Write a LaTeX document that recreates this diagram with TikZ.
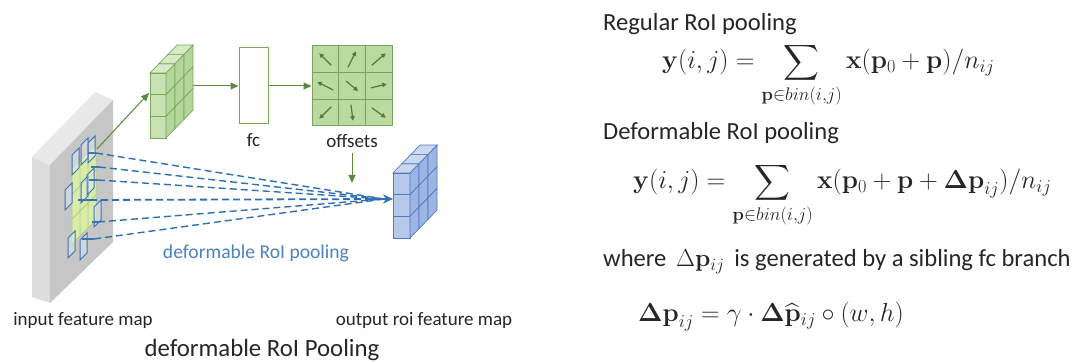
\RequirePackage{fix-cm}
\documentclass[tikz,border=0pt]{standalone}
\usepackage{amsmath}
\usepackage[no-math]{fontspec}
\setmainfont{Carlito}
\usetikzlibrary{arrows.meta,calc}

\definecolor{txt}{HTML}{262626}
\definecolor{slabside}{HTML}{DCDCDC}
\definecolor{slabtop}{HTML}{E8E8E8}
\definecolor{slabfront}{HTML}{C6C6C6}
\definecolor{roifill}{HTML}{D9EDA8}
\definecolor{roiline}{HTML}{A9C97A}
\definecolor{binblue}{HTML}{3F73B8}
\definecolor{pooldash}{HTML}{2F6FB3}
\definecolor{poollbl}{HTML}{4A83C2}
\definecolor{gdark}{HTML}{5A8A3C}
\definecolor{gline}{HTML}{7AA85A}
\definecolor{gfront}{HTML}{C8E2B3}
\definecolor{gside}{HTML}{B3D69A}
\definecolor{gtop}{HTML}{D8EBC8}
\definecolor{goff}{HTML}{B9DBA0}
\definecolor{bline}{HTML}{4F79C4}
\definecolor{bfront}{HTML}{B5C8EA}
\definecolor{bside}{HTML}{9DB5E2}
\definecolor{btop}{HTML}{CBD8F0}

% 3-row block: front column, three depth slices on the side and top
\newcommand{\cubeblock}[7]{%
  \foreach \r in {0,1,2}{%
    \filldraw[fill=#5] (#1,{#2+\r*#4/3}) rectangle ({#1+#3},{#2+(\r+1)*#4/3});
  }%
  \foreach \c in {0,1,2}{%
    \foreach \r in {0,1,2}{%
      \filldraw[fill=#6] ({#1+#3+9*\c},{#2+\r*#4/3-9.3*\c}) -- ++(9,-9.3) -- ++(0,{#4/3}) -- ++(-9,9.3) -- cycle;
    }%
    \filldraw[fill=#7] ({#1+9*\c},{#2-9.3*\c}) -- ++(#3,0) -- ++(9,-9.3) -- ++(-#3,0) -- cycle;
  }%
}

\tikzset{
  lbl/.style={font=\fontsize{19}{22}\selectfont, text=txt, inner sep=0pt},
  head/.style={font=\fontsize{24.6}{29}\selectfont, text=txt, inner sep=0pt, anchor=base west},
  formula/.style={font=\fontsize{26}{30}\selectfont, text=txt, inner sep=0pt, anchor=base west},
  garrow/.style={draw=gdark, line width=1pt, -{Triangle[length=8pt,width=7pt]}},
  offarrow/.style={draw=gdark!90!black, line width=1.2pt, -{Triangle[length=4.5pt,width=4.5pt]}},
  pooldashed/.style={draw=pooldash, line width=1.4pt, dash pattern=on 7pt off 4pt},
  binrect/.style={draw=binblue, line width=1pt, fill=binblue!15, fill opacity=0.45},
  bintick/.style={draw=binblue, line width=1.3pt},
}

\begin{document}
\begin{tikzpicture}[x=1pt,y=-1pt]
\useasboundingbox (0,0) rectangle (1087,363);
\fill[white] (0,0) rectangle (1087,363);

% ---------- input feature map slab ----------
\fill[slabside] (32,157) -- (50,165) -- (50,303) -- (32,297) -- cycle;
\fill[slabtop] (32,157) -- (95,92) -- (113,100) -- (50,165) -- cycle;
\fill[slabfront] (50,165) -- (113,100) -- (113,242) -- (50,303) -- cycle;

% RoI grid on the slab
\foreach \c in {0,1,2}{
  \foreach \r in {0,1,2}{
    \filldraw[fill=roifill, draw=roiline, line width=0.5pt]
      ({72+8*\c},{244-8*\c-25*\r}) -- ++(8,-8) -- ++(0,-25) -- ++(-8,8) -- cycle;
  }
}

% deformed bins
\foreach \x/\y in {68/258, 80/260, 94/227, 65/210, 81/203, 87/195, 72/175, 81/165, 88/163}{
  \path[binrect] (\x,\y) -- ++(7,-7) -- ++(0,-20) -- ++(-7,7) -- cycle;
}
% short ticks where the sampling lines leave the bins
\foreach \x/\y/\l in {88/153/8, 91/167/8, 89/180/9, 78/200/12, 92/222/6, 82/239/12}{
  \draw[bintick] (\x,\y) -- ++(\l,0);
}

% ---------- named anchor points ----------
\coordinate (roiTR) at (97,149);
\coordinate (gcubeL) at (149,93);
\coordinate (gcubeR) at (193,86);
\coordinate (d1) at (96,153);
\coordinate (d2) at (99,167);
\coordinate (d3) at (98,180);
\coordinate (d4) at (90,200);
\coordinate (d5) at (98,222);
\coordinate (d6) at (94,239);
\coordinate (poolend) at (384,199);
\coordinate (bcubeL) at (393,199);

% ---------- green feature block ----------
\begin{scope}[color=gline, line width=0.7pt]
  \cubeblock{150}{73}{16}{65}{gfront}{gside}{gtop}
\end{scope}

% ---------- fc and offsets ----------
\node[draw=gline, line width=1pt, fill=white, minimum width=29pt, minimum height=76pt, inner sep=0pt] (fc) at (253.5,86) {};
\node[lbl] (fclbl) at (253.5,140) {fc};

\node[draw=gdark!80, line width=1pt, fill=goff, minimum width=80pt, minimum height=80pt, inner sep=0pt] (offs) at (352,86) {};
\foreach \t in {1,2}{
  \draw[gdark!80, line width=1pt] ($(offs.north west)!\t/3!(offs.north east)$) -- ($(offs.south west)!\t/3!(offs.south east)$);
  \draw[gdark!80, line width=1pt] ($(offs.north west)!\t/3!(offs.south west)$) -- ($(offs.north east)!\t/3!(offs.south east)$);
}
\foreach \cx/\cy/\dx/\dy in {
  325.3/59.3/-6/-6, 352/59.3/4/-8, 378.7/59.3/7/-6,
  325.3/86/-8/-4, 352/86/6/5, 378.7/86/8/-2,
  325.3/112.7/-6/6, 352/112.7/1/8, 378.7/112.7/7/5}{
  \draw[offarrow] ({\cx-(\dx)},{\cy-(\dy)}) -- ({\cx+(\dx)},{\cy+(\dy)});
}
\node[lbl] (offlbl) at (352,141) {offsets};
\coordinate (offdown) at (352,183);

% ---------- blue output block ----------
\begin{scope}[color=bline, line width=0.7pt]
  \cubeblock{393}{173}{17}{65}{bfront}{bside}{btop}
\end{scope}

% ---------- connectors ----------
\draw[garrow] (roiTR) -- (gcubeL);
\draw[garrow] (gcubeR) -- (fc.west);
\draw[garrow] (fc.east) -- (offs.west);
\draw[garrow] ([yshift=-5pt]offlbl.south) -- (offdown);

\foreach \s in {d1,d2,d3,d5,d6}{
  \draw[pooldashed] (\s) -- (poolend);
}
\draw[pooldashed, line width=1.8pt] (d4) -- (poolend);
\draw[draw=pooldash, line width=2.2pt, -{Stealth[length=10pt,width=9pt]}] ([xshift=-18pt]poolend) -- (bcubeL);

% ---------- labels ----------
\node[lbl, text=poollbl, font=\fontsize{19.6}{23}\selectfont] (poollabel) at (256,253) {deformable RoI pooling};
\node[lbl] (inlbl) at (83,320) {input feature map};
\node[lbl] (outlbl) at (424,320) {output roi feature map};
\node[font=\fontsize{24.8}{28}\selectfont, text=txt, inner sep=0pt] (title) at (262,350) {deformable RoI Pooling};

% ---------- formulas ----------
\node[head] (reg) at (603,31) {Regular RoI pooling};
\node[formula] (f1) at (662,69)
  {$\displaystyle \mathbf{y}(i,j)=\sum_{\mathbf{p}\in bin(i,j)}\mathbf{x}(\mathbf{p}_0+\mathbf{p})/n_{ij}$};
\node[head] (dfm) at (603,140) {Deformable RoI pooling};
\node[formula] (f2) at (633,189)
  {$\displaystyle \mathbf{y}(i,j)=\sum_{\mathbf{p}\in bin(i,j)}\mathbf{x}(\mathbf{p}_0+\mathbf{p}+\mathbf{\Delta p}_{ij})/n_{ij}$};
\node[head] (where) at (603,267) {where \,$\Delta\mathbf{p}_{ij}$\, is generated by a sibling fc branch};
\node[formula] (f3) at (638,322)
  {$\mathbf{\Delta p}_{ij}=\gamma\cdot\mathbf{\Delta}\widehat{\mathbf{p}}_{ij}\circ(w,h)$};
\end{tikzpicture}
\end{document}
